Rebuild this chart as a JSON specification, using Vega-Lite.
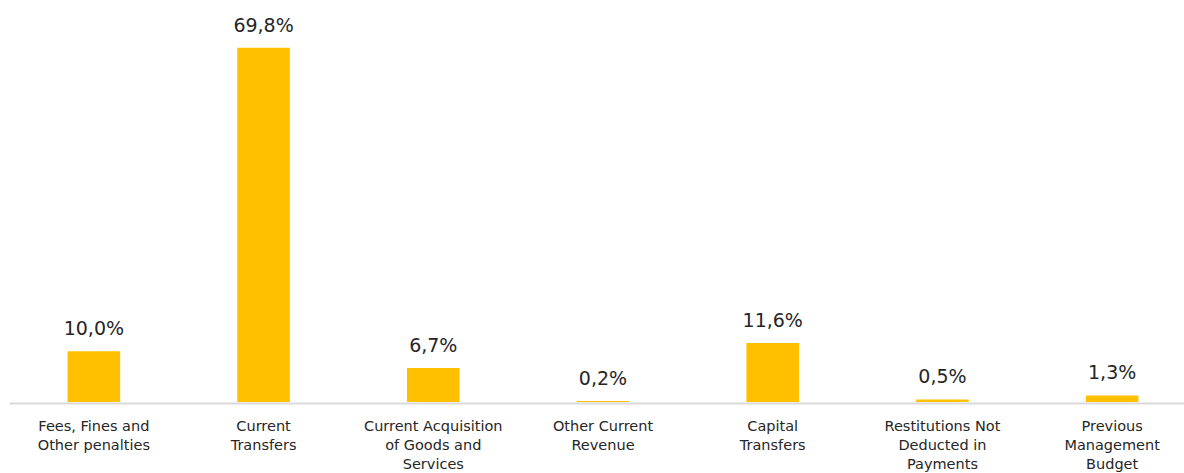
{
  "$schema": "https://vega.github.io/schema/vega-lite/v6.json",
  "width": 1188,
  "height": 396,
  "padding": {"left": 9, "top": 6, "right": 0, "bottom": 71},
  "autosize": {"type": "none"},
  "background": "white",
  "config": {"view": {"stroke": null}, "font": "DejaVu Sans"},
  "data": {
    "values": [
      {"category": "Fees, Fines and|Other penalties", "value": 10.0, "label": "10,0%"},
      {"category": "Current|Transfers", "value": 69.8, "label": "69,8%"},
      {"category": "Current Acquisition|of Goods and|Services", "value": 6.7, "label": "6,7%"},
      {"category": "Other Current|Revenue", "value": 0.2, "label": "0,2%"},
      {"category": "Capital|Transfers", "value": 11.6, "label": "11,6%"},
      {"category": "Restitutions Not|Deducted in|Payments", "value": 0.5, "label": "0,5%"},
      {"category": "Previous|Management|Budget", "value": 1.3, "label": "1,3%"}
    ]
  },
  "encoding": {
    "x": {
      "field": "category",
      "type": "nominal",
      "sort": null,
      "scale": {"paddingInner": 0.69, "paddingOuter": 0.345},
      "axis": {
        "title": null,
        "labelAngle": 0,
        "labelExpr": "split(datum.label, '|')",
        "labelFontSize": 14.5,
        "labelColor": "#262626",
        "labelLineHeight": 19,
        "labelPadding": 16,
        "labelLimit": 300,
        "ticks": false,
        "offset": 1,
        "domainColor": "#d9d9d9",
        "domainWidth": 2
      }
    },
    "y": {
      "field": "value",
      "type": "quantitative",
      "scale": {"domain": [0, 78], "nice": false},
      "axis": null
    }
  },
  "layer": [
    {"mark": {"type": "bar", "color": "#FFC000"}},
    {
      "mark": {"type": "text", "baseline": "bottom", "dy": -12, "fontSize": 19, "color": "#262626"},
      "encoding": {"text": {"field": "label"}}
    }
  ]
}
